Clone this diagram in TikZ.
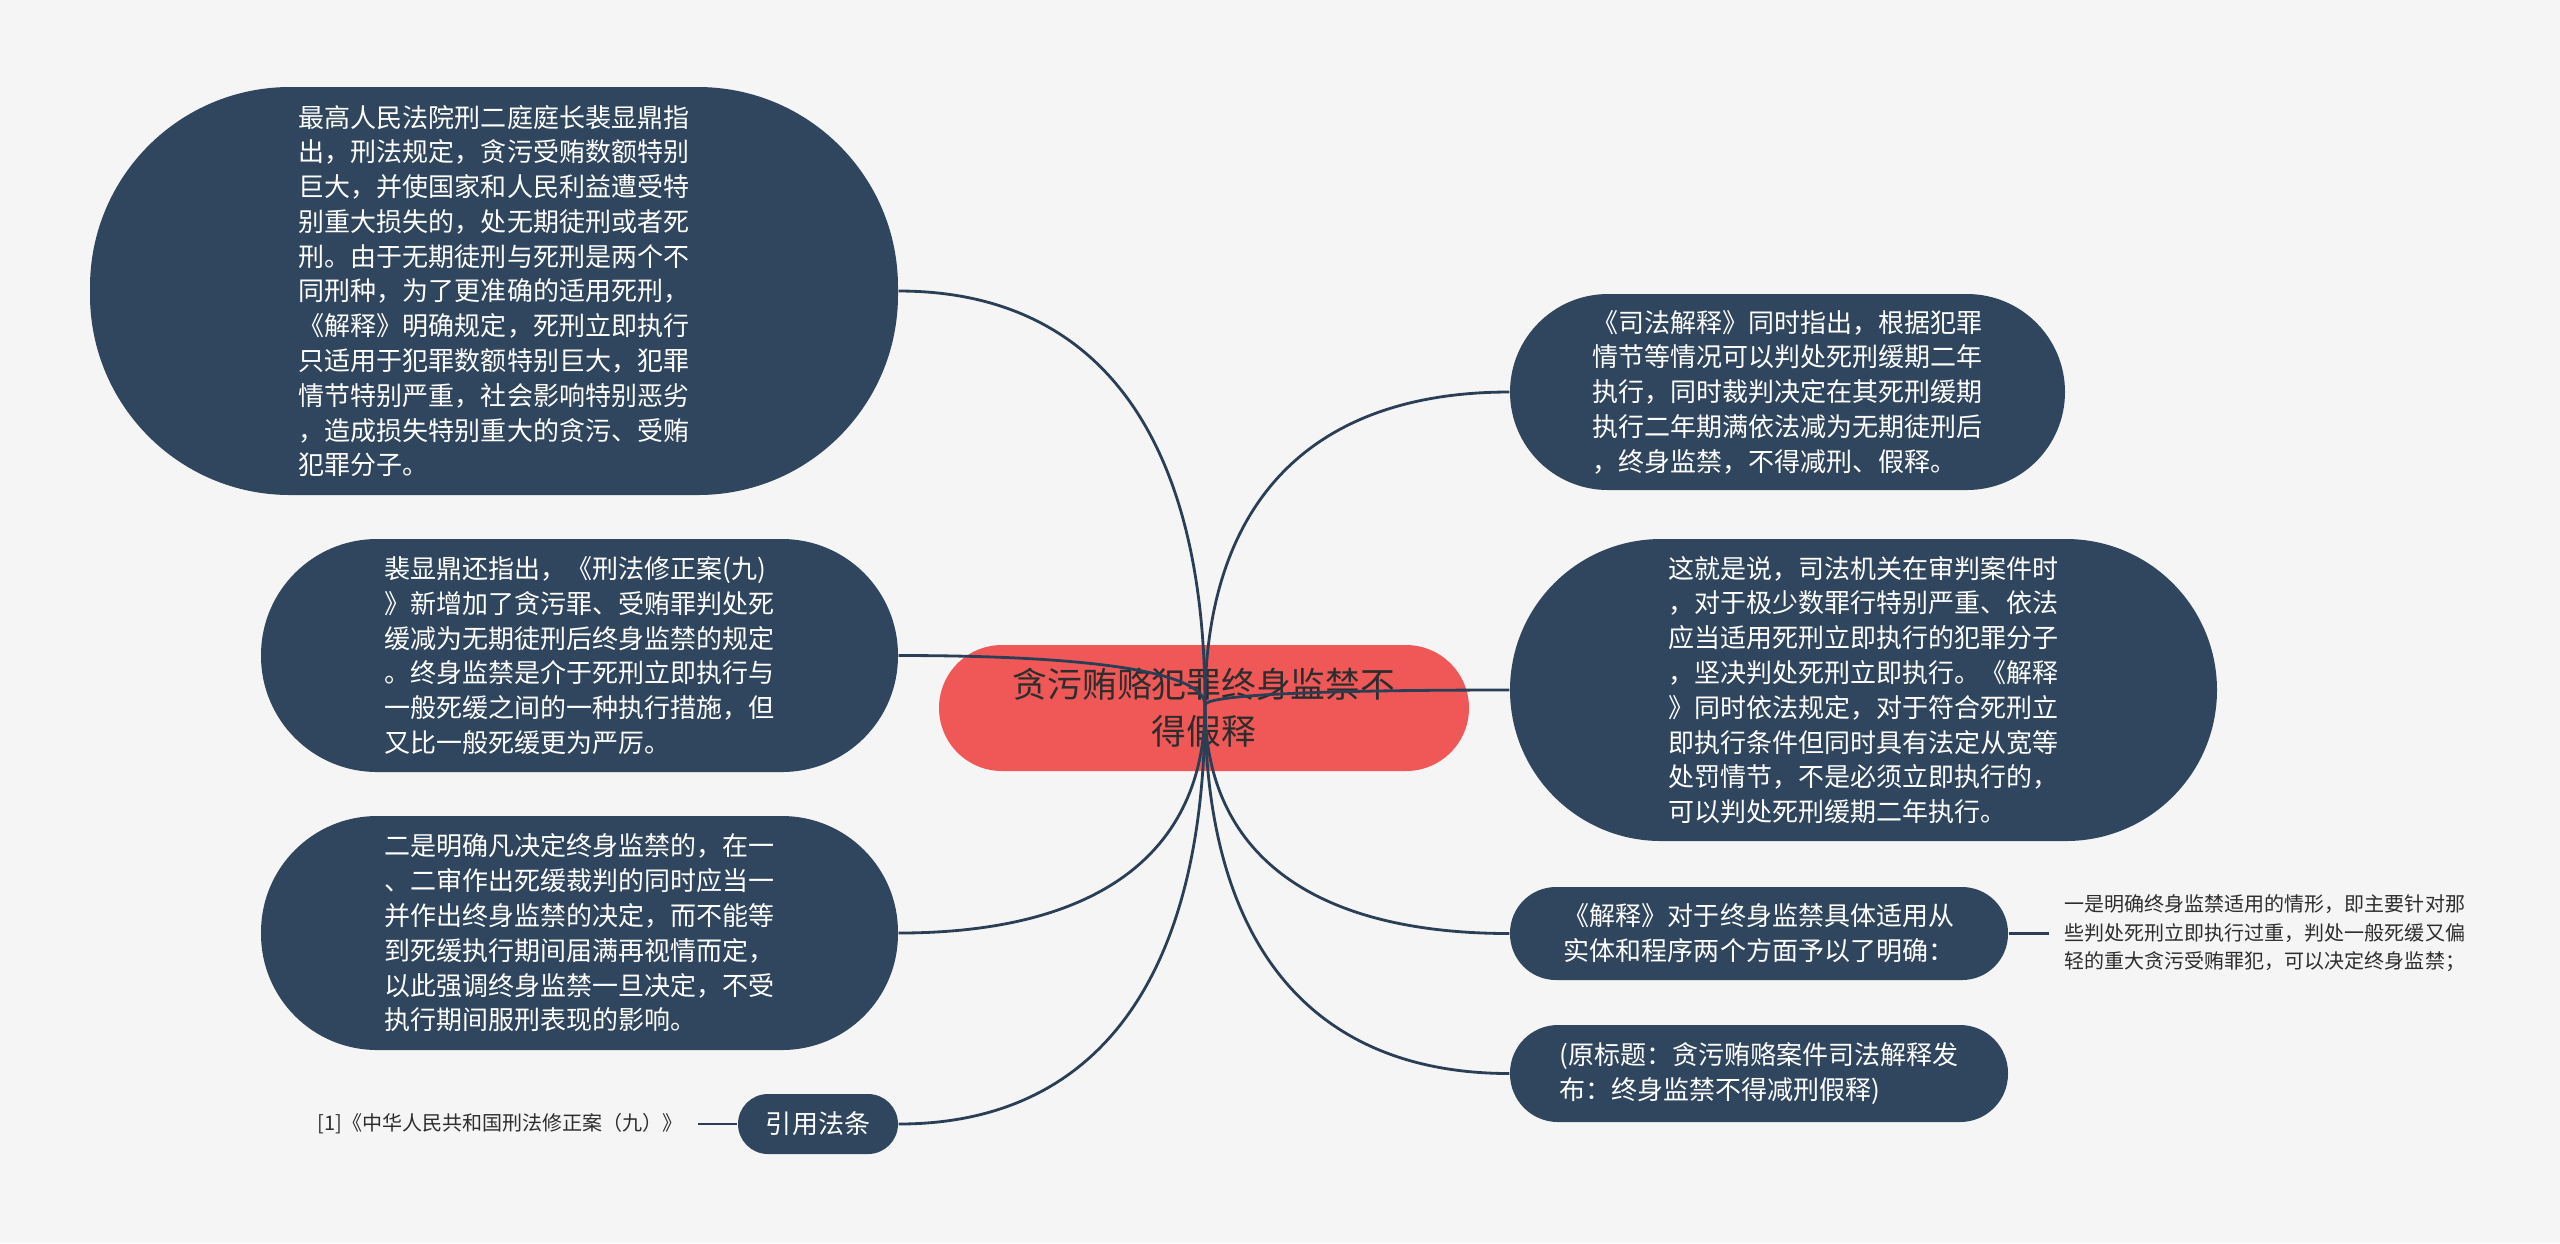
\documentclass[tikz,border=0pt]{standalone}
\usepackage{fontspec}
\usepackage{xcolor}
\usepackage{tikz}
\usetikzlibrary{positioning,calc}
\newfontfamily\cjk{Noto Sans CJK SC}
\definecolor{clrBg}{RGB}{245,245,245}
\definecolor{clrNode}{RGB}{48,70,94}
\definecolor{clrRoot}{RGB}{240,88,88}
\definecolor{clrLine}{RGB}{42,62,86}
\definecolor{clrInk}{RGB}{45,45,45}
\tikzset{
  root/.style={rectangle,fill=clrRoot,text=clrInk,align=center,
    font=\cjk\fontsize{9.9}{13.3}\selectfont,inner sep=0pt},
  topic/.style={rectangle,fill=clrNode,text=white,align=left,
    font=\cjk\fontsize{7.4}{9.9}\selectfont,inner sep=0pt},
  note/.style={font=\cjk\fontsize{5.7}{8.1}\selectfont,text=clrInk,
    align=left,inner xsep=0.15cm,inner ysep=0pt},
  link/.style={draw=clrLine,line width=0.8pt}
}

\begin{document}
\begin{tikzpicture}[x=1cm,y=1cm]
  \fill[clrBg] (0,0) rectangle (25.6,-12.43);
  \useasboundingbox (0,0) rectangle (25.6,-12.43);

  \node[root,minimum width=5.30cm,minimum height=1.26cm,
    rounded corners=0.63cm] (topic) at (12.04,-7.08)
    {贪污贿赂犯罪终身监禁不\\得假释};
  \coordinate (hub) at (12.05,-7.05);

  % left branch
  \node[topic,minimum width=8.08cm,minimum height=4.08cm,
    rounded corners=2.0cm] (ruling) at (4.94,-2.91)
    {最高人民法院刑二庭庭长裴显鼎指\\
     出，刑法规定，贪污受贿数额特别\\
     巨大，并使国家和人民利益遭受特\\
     别重大损失的，处无期徒刑或者死\\
     刑。由于无期徒刑与死刑是两个不\\
     同刑种，为了更准确的适用死刑，\\
     《解释》明确规定，死刑立即执行\\
     只适用于犯罪数额特别巨大，犯罪\\
     情节特别严重，社会影响特别恶劣\\
     ，造成损失特别重大的贪污、受贿\\
     犯罪分子。};
  \node[topic,minimum width=6.37cm,minimum height=2.33cm,
    rounded corners=1.16cm] (amend) at (5.795,-6.555)
    {裴显鼎还指出，《刑法修正案(九)\\
     》新增加了贪污罪、受贿罪判处死\\
     缓减为无期徒刑后终身监禁的规定\\
     。终身监禁是介于死刑立即执行与\\
     一般死缓之间的一种执行措施，但\\
     又比一般死缓更为严厉。};
  \node[topic,minimum width=6.37cm,minimum height=2.34cm,
    rounded corners=1.16cm] (second) at (5.795,-9.33)
    {二是明确凡决定终身监禁的，在一\\
     、二审作出死缓裁判的同时应当一\\
     并作出终身监禁的决定，而不能等\\
     到死缓执行期间届满再视情而定，\\
     以此强调终身监禁一旦决定，不受\\
     执行期间服刑表现的影响。};
  \node[topic,minimum width=1.60cm,minimum height=0.60cm,
    rounded corners=0.30cm] (cite) at (8.18,-11.24) {引用法条};
  \node[note,left=0.39cm of cite] (citetext)
    {[1]《中华人民共和国刑法修正案（九）》};

  % right branch
  \node[topic,minimum width=5.55cm,minimum height=1.96cm,
    rounded corners=0.98cm] (judicial) at (17.875,-3.92)
    {《司法解释》同时指出，根据犯罪\\
     情节等情况可以判处死刑缓期二年\\
     执行，同时裁判决定在其死刑缓期\\
     执行二年期满依法减为无期徒刑后\\
     ，终身监禁，不得减刑、假释。};
  \node[topic,minimum width=7.07cm,minimum height=3.02cm,
    rounded corners=1.51cm] (meaning) at (18.635,-6.90)
    {这就是说，司法机关在审判案件时\\
     ，对于极少数罪行特别严重、依法\\
     应当适用死刑立即执行的犯罪分子\\
     ，坚决判处死刑立即执行。《解释\\
     》同时依法规定，对于符合死刑立\\
     即执行条件但同时具有法定从宽等\\
     处罚情节，不是必须立即执行的，\\
     可以判处死刑缓期二年执行。};
  \node[topic,minimum width=4.98cm,minimum height=0.93cm,
    rounded corners=0.46cm] (scope) at (17.59,-9.335)
    {《解释》对于终身监禁具体适用从\\
     实体和程序两个方面予以了明确：};
  \node[note,right=0.40cm of scope] (first)
    {一是明确终身监禁适用的情形，即主要针对那\\
     些判处死刑立即执行过重，判处一般死缓又偏\\
     轻的重大贪污受贿罪犯，可以决定终身监禁；};
  \node[topic,minimum width=4.98cm,minimum height=0.97cm,
    rounded corners=0.48cm] (source) at (17.59,-10.735)
    {(原标题：贪污贿赂案件司法解释发\\
     布：终身监禁不得减刑假释)};

  % connectors
  \draw[link] (hub) .. controls ($(hub)!0.65!(hub |- ruling.east)$)
    and ($(ruling.east)!0.65!(hub |- ruling.east)$) .. (ruling.east);
  \draw[link] (hub) .. controls ($(hub)!0.65!(hub |- amend.east)$)
    and ($(amend.east)!0.65!(hub |- amend.east)$) .. (amend.east);
  \draw[link] (hub) .. controls ($(hub)!0.65!(hub |- second.east)$)
    and ($(second.east)!0.65!(hub |- second.east)$) .. (second.east);
  \draw[link] (hub) .. controls ($(hub)!0.65!(hub |- cite.east)$)
    and ($(cite.east)!0.65!(hub |- cite.east)$) .. (cite.east);
  \draw[link] (hub) .. controls ($(hub)!0.65!(hub |- judicial.west)$)
    and ($(judicial.west)!0.65!(hub |- judicial.west)$) .. (judicial.west);
  \draw[link] (hub) .. controls ($(hub)!0.65!(hub |- meaning.west)$)
    and ($(meaning.west)!0.65!(hub |- meaning.west)$) .. (meaning.west);
  \draw[link] (hub) .. controls ($(hub)!0.65!(hub |- scope.west)$)
    and ($(scope.west)!0.65!(hub |- scope.west)$) .. (scope.west);
  \draw[link] (hub) .. controls ($(hub)!0.65!(hub |- source.west)$)
    and ($(source.west)!0.65!(hub |- source.west)$) .. (source.west);
  \draw[link] (citetext.east) -- (cite.west);
  \draw[link] (scope.east) -- (first.west);
\end{tikzpicture}
\end{document}
